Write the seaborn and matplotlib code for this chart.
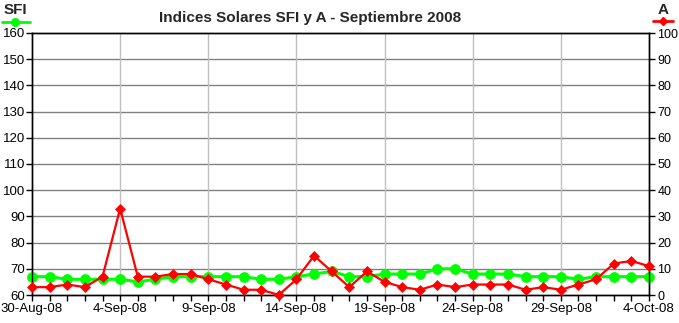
import numpy as np
import pandas as pd
import matplotlib
matplotlib.use("Agg")
import matplotlib.pyplot as plt
import matplotlib.dates as mdates
from matplotlib.lines import Line2D
import seaborn as sns

# ---- data ----
start_date = "2008-08-30"
end_date = "2008-10-04"
sfi = [67, 67, 66, 66, 66, 66, 65, 66, 67, 67, 67, 67, 67, 66, 66, 67, 68, 69,
       67, 67, 68, 68, 68, 70, 70, 68, 68, 68, 67, 67, 67, 66, 67, 67, 67, 67]
a_index = [3, 3, 4, 3, 7, 33, 7, 7, 8, 8, 6, 4, 2, 2, 0, 6, 15, 9,
           3, 9, 5, 3, 2, 4, 3, 4, 4, 4, 2, 3, 2, 4, 6, 12, 13, 11]
sfi_ticks = list(range(60, 161, 10))
a_ticks = list(range(0, 101, 10))
title = "Indices Solares SFI y A - Septiembre 2008"

dates = pd.date_range(start_date, end_date, freq="D")
df = pd.DataFrame({"fecha": dates, "SFI": sfi, "A": a_index})

sns.set_theme(style="white")
plt.rcParams["font.family"] = ["Liberation Sans", "DejaVu Sans"]

fig = plt.figure(figsize=(6.79, 3.23), dpi=100)
ax = fig.add_axes([32 / 679, 28 / 323, (649 - 32) / 679, (295 - 33) / 323])
ax2 = ax.twinx()

GREEN = "#00FF00"
RED = "#FF0000"

# gridlines
ax.set_axisbelow(True)
for y in sfi_ticks[1:-1]:
    ax.axhline(y, color="#808080", lw=1.0, zorder=0)
major_dates = dates[::5]
for d in major_dates[1:-1]:
    ax.axvline(d, color="#C0C0C0", lw=1.0, zorder=0)

sns.lineplot(data=df, x="fecha", y="SFI", ax=ax, color=GREEN, lw=2.2,
             marker="o", markersize=7.2, markeredgecolor=GREEN,
             markeredgewidth=0.5, zorder=3, clip_on=False)
sns.lineplot(data=df, x="fecha", y="A", ax=ax2, color=RED, lw=1.6,
             marker="D", markersize=5.6, markeredgecolor=RED,
             markeredgewidth=0.5, zorder=4, clip_on=False)

ax.set_ylim(60, 160)
ax2.set_ylim(0, 100)
ax.set_xlim(dates[0], dates[-1])
ax.set_yticks(sfi_ticks)
ax2.set_yticks(a_ticks)
ax.set_xticks(major_dates)
ax.xaxis.set_minor_locator(mdates.DayLocator())
ax.set_xticklabels([f"{d.day}-{d.strftime('%b')}-{d.strftime('%y')}" for d in major_dates])
ax.set_xlabel("")
ax.set_ylabel("")
ax2.set_ylabel("")

for a in (ax, ax2):
    for s in a.spines.values():
        s.set_color("black")
        s.set_linewidth(1.0)
    a.grid(False)

ax.tick_params(axis="y", direction="out", length=4, width=1, color="black",
               labelsize=9.5, pad=1, labelcolor="black", left=True)
ax2.tick_params(axis="y", direction="out", length=4, width=1, color="black",
                labelsize=9, pad=2, labelcolor="black", right=True)
ax.tick_params(axis="x", which="major", direction="out", length=4, width=1,
               color="black", labelsize=9.5, pad=2, labelcolor="black", bottom=True)
ax.tick_params(axis="x", which="minor", direction="out", length=4, width=1,
               color="black", bottom=True)

fig.text(310 / 679, 1 - 18 / 323, title, ha="center", va="center",
         fontsize=11, fontweight="bold")

# header legend markers
fig.text(15 / 679, 1 - 10 / 323, "SFI", ha="center", va="center",
         fontsize=11, fontweight="bold")
fig.add_artist(Line2D([2 / 679, 30 / 679], [1 - 22 / 323] * 2, color=GREEN,
                      lw=2, transform=fig.transFigure))
fig.add_artist(Line2D([15 / 679], [1 - 22 / 323], color=GREEN, marker="o",
                      markersize=5.5, transform=fig.transFigure))
fig.text(663 / 679, 1 - 10 / 323, "A", ha="center", va="center",
         fontsize=11, fontweight="bold")
fig.add_artist(Line2D([653 / 679, 673 / 679], [1 - 21 / 323] * 2, color=RED,
                      lw=2, transform=fig.transFigure))
fig.add_artist(Line2D([663 / 679], [1 - 21 / 323], color=RED, marker="D",
                      markersize=3.8, transform=fig.transFigure))

fig.savefig("out.png", dpi=100, facecolor="white")
